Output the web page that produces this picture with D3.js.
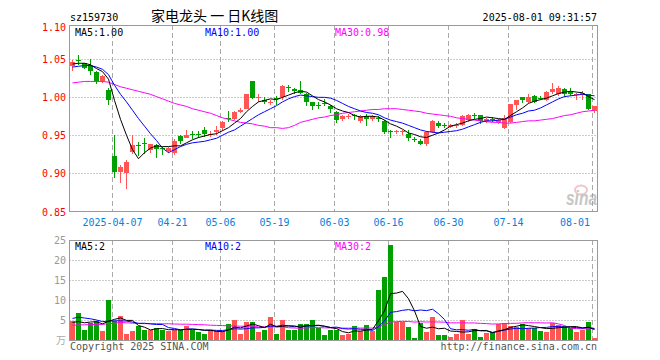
<!DOCTYPE html>
<html><head><meta charset="utf-8">
<script src="https://cdn.jsdelivr.net/npm/d3@7/dist/d3.min.js"></script>
<style>
body{margin:0;background:#fff}
svg{display:block}
text{font-family:"DejaVu Sans Mono",monospace;font-size:10px}
</style>
</head><body>
<svg id="c" width="660" height="360"></svg>
<script>
const dates = ["2025-03-26","2025-03-27","2025-03-28","2025-03-31","2025-04-01","2025-04-02","2025-04-03",
"2025-04-07","2025-04-08","2025-04-09","2025-04-10","2025-04-11","2025-04-14","2025-04-15","2025-04-16","2025-04-17","2025-04-18",
"2025-04-21","2025-04-22","2025-04-23","2025-04-24","2025-04-25","2025-04-28","2025-04-29","2025-04-30",
"2025-05-06","2025-05-07","2025-05-08","2025-05-09","2025-05-12","2025-05-13","2025-05-14","2025-05-15","2025-05-16",
"2025-05-19","2025-05-20","2025-05-21","2025-05-22","2025-05-23","2025-05-26","2025-05-27","2025-05-28","2025-05-29","2025-05-30",
"2025-06-03","2025-06-04","2025-06-05","2025-06-06","2025-06-09","2025-06-10","2025-06-11","2025-06-12","2025-06-13",
"2025-06-16","2025-06-17","2025-06-18","2025-06-19","2025-06-20","2025-06-23","2025-06-24","2025-06-25","2025-06-26","2025-06-27",
"2025-06-30","2025-07-01","2025-07-02","2025-07-03","2025-07-04","2025-07-07","2025-07-08","2025-07-09","2025-07-10","2025-07-11",
"2025-07-14","2025-07-15","2025-07-16","2025-07-17","2025-07-18","2025-07-21","2025-07-22","2025-07-23","2025-07-24","2025-07-25",
"2025-07-28","2025-07-29","2025-07-30","2025-07-31","2025-08-01"];

const open = [1.042,1.049,1.045,1.042,1.034,1.021,1.010,0.922,0.902,0.900,
0.928,0.937,0.940,0.931,0.937,0.933,0.929,0.927,0.949,0.947,
0.952,0.952,0.957,0.951,0.954,0.959,0.973,0.972,0.981,0.985,
1.021,0.999,0.997,0.993,0.999,1.001,1.014,1.011,1.010,1.005,
0.994,0.990,0.993,0.988,0.981,0.971,0.975,0.977,0.969,0.975,
0.971,0.973,0.969,0.955,0.954,0.954,0.951,0.945,0.943,0.938,
0.954,0.966,0.963,0.961,0.962,0.964,0.970,0.977,0.977,0.969,
0.971,0.968,0.960,0.968,0.990,1.000,0.994,1.002,0.999,0.996,
1.007,1.005,1.011,1.007,1.003,1.005,1.004,0.982];
const high = [1.049,1.056,1.046,1.051,1.035,1.030,1.012,0.950,0.911,0.917,
0.950,0.941,0.946,0.939,0.938,0.935,0.935,0.945,0.950,0.957,
0.955,0.955,0.961,0.955,0.962,0.969,0.982,0.982,0.986,1.005,
1.021,1.005,1.000,0.996,1.002,1.016,1.016,1.013,1.021,1.006,
0.994,0.994,0.998,0.990,0.982,0.977,0.978,0.978,0.977,0.978,
0.977,0.975,0.970,0.957,0.957,0.957,0.957,0.948,0.945,0.955,
0.970,0.969,0.966,0.965,0.966,0.977,0.978,0.979,0.977,0.973,
0.974,0.972,0.977,0.991,0.997,1.001,1.005,1.003,1.002,1.008,
1.019,1.015,1.012,1.012,1.006,1.009,1.005,0.989];
const low = [1.035,1.043,1.037,1.029,1.018,1.019,0.990,0.894,0.887,0.879,
0.925,0.922,0.925,0.926,0.920,0.924,0.927,0.924,0.939,0.946,
0.945,0.947,0.948,0.948,0.950,0.956,0.967,0.970,0.979,0.984,
0.998,0.994,0.991,0.990,0.990,0.996,1.007,1.005,1.005,0.988,
0.983,0.984,0.988,0.980,0.966,0.969,0.971,0.970,0.966,0.962,
0.969,0.968,0.952,0.946,0.951,0.950,0.943,0.941,0.937,0.936,
0.953,0.959,0.959,0.959,0.960,0.962,0.967,0.971,0.965,0.966,
0.968,0.965,0.958,0.966,0.983,0.993,0.992,0.992,0.996,0.995,
1.005,1.002,1.001,1.002,0.997,0.997,0.983,0.979];
const close = [1.047,1.048,1.039,1.035,1.021,1.028,0.996,0.901,0.908,0.915,
0.937,0.936,0.939,0.938,0.932,0.932,0.933,0.943,0.942,0.950,
0.951,0.951,0.951,0.952,0.957,0.967,0.972,0.981,0.983,1.004,
0.999,1.001,0.994,0.994,0.998,1.015,1.013,1.008,1.006,0.994,
0.988,0.989,0.992,0.985,0.970,0.975,0.976,0.975,0.975,0.972,
0.976,0.971,0.954,0.954,0.955,0.955,0.946,0.944,0.938,0.954,
0.969,0.962,0.962,0.964,0.964,0.976,0.977,0.976,0.969,0.972,
0.970,0.970,0.973,0.991,0.996,0.996,1.000,0.994,0.998,1.007,
1.011,1.013,1.005,1.004,1.004,1.006,0.984,0.988];

const ma5 = [1.044,1.045,1.045,1.043,1.038,1.034,1.024,0.996,0.971,0.950,
0.931,0.919,0.927,0.933,0.936,0.935,0.935,0.936,0.936,0.940,
0.944,0.947,0.949,0.951,0.952,0.956,0.960,0.966,0.972,0.981,
0.988,0.994,0.996,0.998,0.997,1.000,1.003,1.006,1.008,1.007,
1.002,0.997,0.994,0.990,0.985,0.982,0.980,0.976,0.974,0.975,
0.975,0.974,0.970,0.965,0.962,0.958,0.953,0.951,0.948,0.947,
0.950,0.953,0.957,0.962,0.964,0.966,0.969,0.971,0.972,0.974,
0.973,0.972,0.971,0.976,0.981,0.986,0.992,0.995,0.997,0.999,
1.002,1.005,1.007,1.008,1.007,1.006,1.001,0.997];
const ma10 = [1.040,1.041,1.042,1.042,1.040,1.037,1.030,1.016,1.004,0.994,
0.983,0.972,0.962,0.952,0.943,0.933,0.927,0.931,0.935,0.938,
0.940,0.941,0.942,0.944,0.946,0.950,0.954,0.957,0.962,0.967,
0.972,0.977,0.981,0.985,0.989,0.994,0.998,1.001,1.003,1.002,
1.001,1.000,1.000,0.999,0.996,0.992,0.988,0.985,0.982,0.980,
0.979,0.977,0.973,0.970,0.968,0.966,0.963,0.960,0.957,0.955,
0.954,0.953,0.954,0.955,0.956,0.958,0.961,0.964,0.967,0.969,
0.969,0.970,0.971,0.974,0.977,0.979,0.982,0.983,0.986,0.990,
0.994,0.998,1.001,1.002,1.003,1.004,1.003,1.002];
const ma30 = [1.019,1.020,1.021,1.021,1.021,1.021,1.020,1.017,1.014,1.012,
1.010,1.008,1.006,1.004,1.001,0.998,0.995,0.992,0.990,0.988,
0.985,0.983,0.981,0.979,0.976,0.973,0.971,0.969,0.967,0.966,
0.965,0.963,0.962,0.960,0.960,0.959,0.960,0.963,0.967,0.969,
0.971,0.973,0.974,0.976,0.977,0.979,0.980,0.981,0.982,0.983,
0.984,0.984,0.985,0.985,0.985,0.984,0.983,0.982,0.981,0.979,
0.978,0.977,0.976,0.975,0.973,0.972,0.971,0.970,0.969,0.968,
0.967,0.967,0.966,0.966,0.967,0.968,0.969,0.969,0.970,0.971,
0.972,0.974,0.976,0.977,0.979,0.981,0.982,0.983];

// volume in 万
const volume = [4.75,6.75,2.4,4.2,4.7,2.2,10.0,4.7,6.0,1.6,
2.2,3.6,2.6,2.6,3.1,2.4,2.2,2.6,2.4,3.6,
2.6,2.0,1.4,2.6,2.2,2.2,4.1,5.0,1.6,4.6,
4.6,2.1,2.6,5.8,1.6,5.0,2.6,2.6,3.9,3.9,
5.0,3.1,1.2,2.4,2.6,1.2,1.6,3.5,2.25,3.75,
2.25,12.5,15.75,23.75,4.4,4.4,3.3,0.6,4.3,2.1,
5.8,1.25,1.25,0.8,1.6,5.0,1.6,2.75,0.8,1.8,
2.1,3.9,4.3,3.6,3.3,3.9,2.9,3.1,2.25,2.1,
4.2,3.75,3.6,3.1,2.1,2.6,4.6,0.6];
const vma5 = [4.4,4.6,4.3,4.5,4.56,4.05,4.7,5.16,5.52,4.9,
4.9,3.62,3.2,2.52,2.82,2.86,2.58,2.58,2.54,2.64,
2.68,2.64,2.4,2.44,2.16,2.08,2.5,3.22,3.02,3.5,
3.98,3.58,3.1,3.94,3.34,3.42,3.52,3.52,3.14,3.6,
3.6,3.7,3.42,3.12,2.86,2.1,1.8,2.26,2.23,2.46,
2.67,4.85,7.3,11.6,11.73,12.16,10.32,7.29,3.4,2.94,
3.22,2.81,2.94,2.24,2.14,1.98,2.05,2.35,2.35,2.39,
1.81,2.27,2.58,3.14,3.44,3.8,3.6,3.36,3.09,2.85,
2.91,3.08,3.18,3.35,3.35,3.03,3.2,2.6];
const vma10 = [5.4,5.7,5.5,5.3,5.0,4.6,4.7,4.8,4.8,4.73,
4.48,4.16,4.18,4.02,3.86,3.88,3.1,2.89,2.53,2.73,
2.77,2.61,2.49,2.49,2.4,2.38,2.57,2.81,2.73,2.83,
3.03,3.04,3.16,3.48,3.42,3.7,3.55,3.31,3.54,3.47,
3.51,3.61,3.47,3.13,3.23,2.85,2.75,2.84,2.68,2.66,
2.39,3.33,4.78,6.92,7.1,7.42,7.59,7.3,7.5,7.34,
7.69,6.57,5.12,2.82,2.54,2.6,2.43,2.65,2.3,2.27,
1.9,2.16,2.47,2.75,2.92,2.81,2.94,2.97,3.12,3.15,
3.36,3.34,3.27,3.22,3.1,2.97,3.14,2.89];
const vma30 = [3.7,3.75,3.8,3.85,3.9,3.9,4.1,4.2,4.4,4.3,
4.2,4.15,4.1,4.1,4.1,4.05,4.05,4.0,3.95,3.95,
3.9,3.85,3.8,3.7,3.65,3.6,3.55,3.5,3.45,3.43,
3.43,3.27,3.28,3.33,3.23,3.32,3.07,3.0,2.93,3.01,
3.1,3.09,3.04,3.03,3.02,2.98,2.96,2.99,2.98,2.99,
2.98,3.33,3.8,4.51,4.58,4.66,4.63,4.48,4.57,4.49,
4.53,4.5,4.46,4.29,4.29,4.29,4.26,4.26,4.16,4.09,
3.99,4.02,4.12,4.16,4.18,4.27,4.32,4.3,4.3,4.25,
4.31,4.02,3.62,2.93,2.85,2.79,2.84,2.84];

const xTickDates = ["2025-04-07","2025-04-21","2025-05-06","2025-05-19","2025-06-03","2025-06-16","2025-06-30","2025-07-14","2025-08-01"];
const xTickLabels = ["2025-04-07","04-21","05-06","05-19","06-03","06-16","06-30","07-14","08-01"];
const priceGrid = [1.05, 1.00, 0.95, 0.90];
const priceLabels = ["1.05","1.00","0.95","0.90"];
const priceDomain = [0.85, 1.0955];
const priceEdgeLabels = ["1.10","0.85"];
const volGrid = [5, 10, 15, 20];
const volLabels = ["25","20","15","10","5"];
const volLabelValues = [25, 20, 15, 10, 5];
const volDomain = [0, 25];

const code = "sz159730";
const title = "家电龙头 一 日K线图";
const stamp = "2025-08-01 09:31:57";

const svg = d3.select("#c");
const L = 69.5, R = 597.5, T = 25, B = 211, VT = 240, VB = 340;

const x = d3.scaleBand().domain(dates).range([L, R]).paddingInner(1/6).paddingOuter(1/12);
const y = d3.scaleLinear().domain(priceDomain).range([B, T]);
const yv = d3.scaleLinear().domain(volDomain).range([VB, VT]);
const bw = x.bandwidth();
const cx = d => x(d) + 2.5;

const UP = "#ff5555", DOWN = "#00a000";
const GRID = "#aaaaaa";

const defs = svg.append("defs");
defs.append("clipPath").attr("id","cp").append("rect").attr("x",L).attr("y",T).attr("width",R-L).attr("height",B-T+1);
defs.append("clipPath").attr("id","cv").append("rect").attr("x",L).attr("y",VT).attr("width",R-L).attr("height",VB-VT+1);

// header
svg.append("text").attr("x",70).attr("y",21).attr("fill","#000").text(code);
svg.append("text").attr("x",151).attr("y",20.5).attr("fill","#000")
  .style("font-family",'"Noto Sans CJK SC",sans-serif').style("font-size","14px").text(title);
svg.append("text").attr("x",597).attr("y",21).attr("text-anchor","end").attr("fill","#000").text(stamp);

// grids main
const gm = svg.append("g");
priceGrid.forEach(v => {
  const yy = Math.floor(y(v)) + 0.5;
  gm.append("line").attr("x1",L).attr("x2",R).attr("y1",yy).attr("y2",yy)
    .attr("stroke","#999").attr("stroke-dasharray","1,2");
});
xTickDates.forEach(d => {
  const xx = x(d) + 0.5;
  gm.append("line").attr("x1",xx).attr("x2",xx).attr("y1",T).attr("y2",B)
    .attr("stroke",GRID).attr("stroke-dasharray","5,3");
  gm.append("line").attr("x1",xx).attr("x2",xx).attr("y1",VT).attr("y2",VB)
    .attr("stroke",GRID).attr("stroke-dasharray","5,3");
});
volGrid.forEach(v => {
  const yy = Math.floor(yv(v)) + 0.5;
  gm.append("line").attr("x1",L).attr("x2",R).attr("y1",yy).attr("y2",yy)
    .attr("stroke","#999").attr("stroke-dasharray","1,2");
});

// watermark
const wm = svg.append("g").attr("opacity",0.55);
wm.append("ellipse").attr("cx",581).attr("cy",190).attr("rx",6).attr("ry",4.5)
  .attr("fill","none").attr("stroke","#e39a9a").attr("stroke-width",2);
wm.append("text").attr("x",566).attr("y",205).attr("textLength",31).attr("lengthAdjust","spacingAndGlyphs")
  .style("font-family","'Liberation Sans',Arial,sans-serif").style("font-size","20px")
  .style("font-weight","bold").style("font-style","italic").attr("fill","#999").text("sina");

// candles
const cg = svg.append("g").attr("clip-path","url(#cp)");
dates.forEach((d,i) => {
  const col = close[i] >= open[i] ? UP : DOWN;
  const yt = Math.round(y(Math.max(open[i],close[i])));
  const yb = Math.round(y(Math.min(open[i],close[i])));
  cg.append("line").attr("x1",cx(d)).attr("x2",cx(d))
    .attr("y1",Math.round(y(high[i]))).attr("y2",Math.round(y(low[i])))
    .attr("stroke",col).attr("shape-rendering","crispEdges");
  cg.append("rect").attr("x",x(d)).attr("y",yt).attr("width",bw).attr("height",Math.max(1,yb-yt))
    .attr("fill",col).attr("shape-rendering","crispEdges");
});

// price MA lines
const pl = d3.line().x((v,i)=>cx(dates[i])).y(v=>y(v));
[[ma30,"#ff00ff"],[ma10,"#0000ff"],[ma5,"#000000"]].forEach(([arr,c]) => {
  cg.append("path").attr("d",pl(arr)).attr("fill","none").attr("stroke",c).attr("stroke-width",1);
});

// volume bars
const vg = svg.append("g").attr("clip-path","url(#cv)");
dates.forEach((d,i) => {
  const col = close[i] >= open[i] ? UP : DOWN;
  const yt = Math.round(yv(volume[i]));
  vg.append("rect").attr("x",x(d)).attr("y",yt).attr("width",bw).attr("height",VB-yt)
    .attr("fill",col).attr("shape-rendering","crispEdges");
});
const vl = d3.line().x((v,i)=>cx(dates[i])).y(v=>yv(v));
[[vma30,"#ff00ff"],[vma10,"#0000ff"],[vma5,"#000000"]].forEach(([arr,c]) => {
  vg.append("path").attr("d",vl(arr)).attr("fill","none").attr("stroke",c).attr("stroke-width",1);
});

// frames
svg.append("rect").attr("x",L).attr("y",T+0.5).attr("width",R-L).attr("height",B-T)
  .attr("fill","none").attr("stroke","#999");
svg.append("rect").attr("x",L).attr("y",VT+0.5).attr("width",R-L).attr("height",VB-VT)
  .attr("fill","none").attr("stroke","#999");

// price labels
priceGrid.forEach((v,i) => {
  svg.append("text").attr("x",66).attr("y",y(v)).attr("dy","0.36em").attr("text-anchor","end")
    .attr("fill","#ff0000").text(priceLabels[i]);
});
svg.append("text").attr("x",66).attr("y",T+2).attr("dy","0.36em").attr("text-anchor","end")
  .attr("fill","#ff0000").text(priceEdgeLabels[0]);
svg.append("text").attr("x",66).attr("y",B+1).attr("dy","0.36em").attr("text-anchor","end")
  .attr("fill","#ff0000").text(priceEdgeLabels[1]);

// volume labels
volLabels.forEach((t,i) => {
  svg.append("text").attr("x",66).attr("y",yv(volLabelValues[i])+0.5).attr("dy","0.36em").attr("text-anchor","end")
    .attr("fill","#999").text(t);
});
svg.append("text").attr("x",66).attr("y",340).attr("dy","0.36em").attr("text-anchor","end")
  .attr("fill","#aaa").style("font-family",'"Noto Sans CJK SC",sans-serif').style("font-size","10px").text("万");

// date labels
xTickDates.forEach((d,i) => {
  const last = i === xTickDates.length-1;
  svg.append("text").attr("x", last ? 590 : x(d)+0.5).attr("y",226)
    .attr("text-anchor", last ? "end" : "middle").attr("fill","#0a80dc").text(xTickLabels[i]);
});

// legends
const n = dates.length - 1;
svg.append("text").attr("x",75).attr("y",36).attr("fill","#000").text("MA5:" + ma5[n].toFixed(2));
svg.append("text").attr("x",205).attr("y",36).attr("fill","#0000ff").text("MA10:" + ma10[n].toFixed(2));
svg.append("text").attr("x",335).attr("y",36).attr("fill","#ff00ff").text("MA30:" + ma30[n].toFixed(2));
svg.append("text").attr("x",75).attr("y",250).attr("fill","#000").text("MA5:" + Math.floor(vma5[n]));
svg.append("text").attr("x",205).attr("y",250).attr("fill","#0000ff").text("MA10:" + Math.floor(vma10[n]));
svg.append("text").attr("x",335).attr("y",250).attr("fill","#ff00ff").text("MA30:" + Math.floor(vma30[n]));

// footer
svg.append("text").attr("x",70).attr("y",349.5).attr("fill","#555").text("Copyright 2025 SINA.COM");
svg.append("text").attr("x",597).attr("y",349.5).attr("text-anchor","end").attr("fill","#555").text("http://finance.sina.com.cn");
</script>
</body></html>
